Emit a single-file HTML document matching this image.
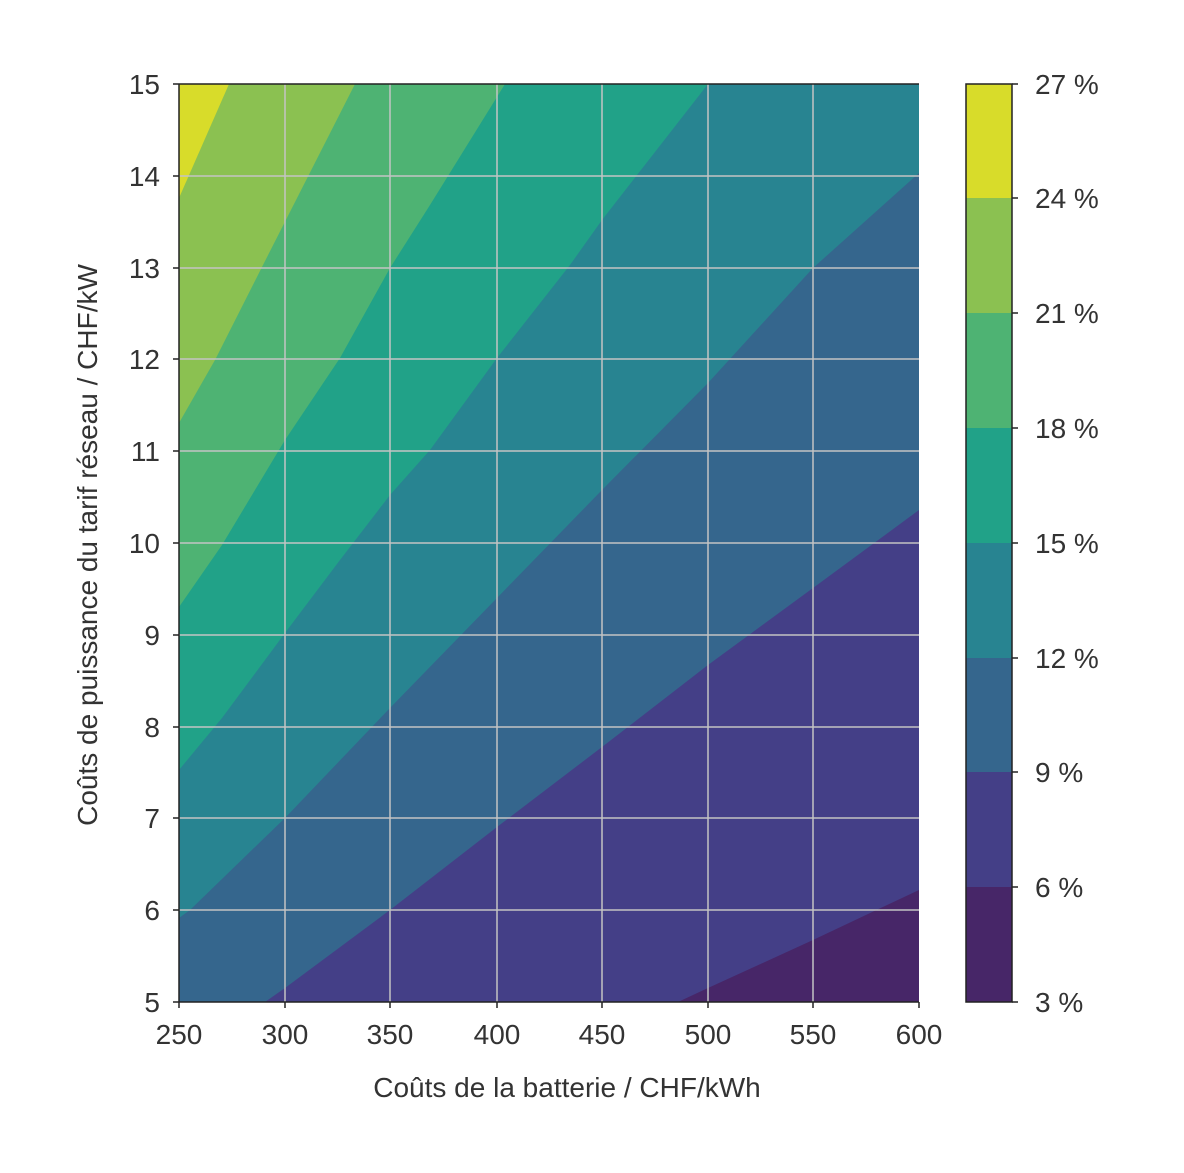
<!DOCTYPE html>
<html><head><meta charset="utf-8"><style>body{margin:0;background:#fff}svg{display:block}text{font-family:"Liberation Sans",sans-serif;fill:#333;font-size:28px}</style></head><body>
<svg width="1184" height="1173" viewBox="0 0 1184 1173">
<rect x="179" y="84" width="740" height="918" fill="#472668"/>
<polygon fill="#443f87" points="678,1002 708,988 813,940 919,890 919,84 179,84 179,1002"/>
<polygon fill="#35668d" points="265,1002 285,988 390,910 497,827 602,747 708,665 813,588 919,510 919,84 179,84 179,1002"/>
<polygon fill="#288491" points="179,918 190,910 285,818 390,708 497,598 602,490 708,383 813,268 919,173 919,84 179,84"/>
<polygon fill="#21a288" points="179,770 222,718 285,633 340,560 390,495 430,450 497,358 570,265 602,220 708,84 179,84"/>
<polygon fill="#4eb373" points="179,607 222,545 285,440 340,358 390,268 430,205 505,84 179,84"/>
<polygon fill="#8bc151" points="179,423 215,360 263,265 355,84 179,84"/>
<polygon fill="#d8dc2a" points="179,198 229,84 179,84"/>
<g stroke="#c4c4c4" stroke-width="1.5">
<line x1="285" y1="84" x2="285" y2="1002"/><line x1="390" y1="84" x2="390" y2="1002"/><line x1="497" y1="84" x2="497" y2="1002"/><line x1="602" y1="84" x2="602" y2="1002"/><line x1="708" y1="84" x2="708" y2="1002"/><line x1="813" y1="84" x2="813" y2="1002"/>
<line x1="179" y1="176" x2="919" y2="176"/><line x1="179" y1="268" x2="919" y2="268"/><line x1="179" y1="359" x2="919" y2="359"/><line x1="179" y1="451" x2="919" y2="451"/><line x1="179" y1="543" x2="919" y2="543"/><line x1="179" y1="635" x2="919" y2="635"/><line x1="179" y1="727" x2="919" y2="727"/><line x1="179" y1="818" x2="919" y2="818"/><line x1="179" y1="910" x2="919" y2="910"/>
</g>
<g stroke="#222" stroke-width="1.5">
<line x1="179" y1="84" x2="179" y2="1002"/><line x1="179" y1="1002" x2="919" y2="1002"/><line x1="179" y1="84" x2="919" y2="84"/>
<line x1="173" y1="84" x2="179" y2="84"/><line x1="173" y1="176" x2="179" y2="176"/><line x1="173" y1="268" x2="179" y2="268"/><line x1="173" y1="359" x2="179" y2="359"/><line x1="173" y1="451" x2="179" y2="451"/><line x1="173" y1="543" x2="179" y2="543"/><line x1="173" y1="635" x2="179" y2="635"/><line x1="173" y1="727" x2="179" y2="727"/><line x1="173" y1="818" x2="179" y2="818"/><line x1="173" y1="910" x2="179" y2="910"/><line x1="173" y1="1002" x2="179" y2="1002"/>
<line x1="179" y1="1002" x2="179" y2="1008"/><line x1="285" y1="1002" x2="285" y2="1008"/><line x1="390" y1="1002" x2="390" y2="1008"/><line x1="497" y1="1002" x2="497" y2="1008"/><line x1="602" y1="1002" x2="602" y2="1008"/><line x1="708" y1="1002" x2="708" y2="1008"/><line x1="813" y1="1002" x2="813" y2="1008"/><line x1="919" y1="1002" x2="919" y2="1008"/>
</g>
<g text-anchor="end">
<text x="160" y="94">15</text><text x="160" y="186">14</text><text x="160" y="278">13</text><text x="160" y="369">12</text><text x="160" y="461">11</text><text x="160" y="553">10</text><text x="160" y="645">9</text><text x="160" y="737">8</text><text x="160" y="828">7</text><text x="160" y="920">6</text><text x="160" y="1012">5</text>
</g>
<g text-anchor="middle">
<text x="179" y="1044">250</text><text x="285" y="1044">300</text><text x="390" y="1044">350</text><text x="497" y="1044">400</text><text x="602" y="1044">450</text><text x="708" y="1044">500</text><text x="813" y="1044">550</text><text x="919" y="1044">600</text>
<text x="567" y="1097" font-size="30">Coûts de la batterie / CHF/kWh</text>
<text x="0" y="0" font-size="30" transform="translate(97,545) rotate(-90)">Coûts de puissance du tarif réseau / CHF/kW</text>
</g>
<rect x="966" y="84" width="46" height="115" fill="#d8dc2a"/>
<rect x="966" y="198" width="46" height="115" fill="#8bc151"/>
<rect x="966" y="313" width="46" height="115" fill="#4eb373"/>
<rect x="966" y="428" width="46" height="115" fill="#21a288"/>
<rect x="966" y="543" width="46" height="115" fill="#288491"/>
<rect x="966" y="658" width="46" height="115" fill="#35668d"/>
<rect x="966" y="772" width="46" height="115" fill="#443f87"/>
<rect x="966" y="887" width="46" height="115" fill="#472668"/>
<rect x="966" y="84" width="46" height="918" fill="none" stroke="#222" stroke-width="1.5"/>
<g stroke="#222" stroke-width="1.5">
<line x1="1012" y1="84" x2="1018" y2="84"/><line x1="1012" y1="198" x2="1018" y2="198"/><line x1="1012" y1="313" x2="1018" y2="313"/><line x1="1012" y1="428" x2="1018" y2="428"/><line x1="1012" y1="543" x2="1018" y2="543"/><line x1="1012" y1="658" x2="1018" y2="658"/><line x1="1012" y1="772" x2="1018" y2="772"/><line x1="1012" y1="887" x2="1018" y2="887"/><line x1="1012" y1="1002" x2="1018" y2="1002"/>
</g>
<g>
<text x="1035" y="94">27 %</text><text x="1035" y="208">24 %</text><text x="1035" y="323">21 %</text><text x="1035" y="438">18 %</text><text x="1035" y="553">15 %</text><text x="1035" y="668">12 %</text><text x="1035" y="782">9 %</text><text x="1035" y="897">6 %</text><text x="1035" y="1012">3 %</text>
</g>
</svg>
</body></html>
